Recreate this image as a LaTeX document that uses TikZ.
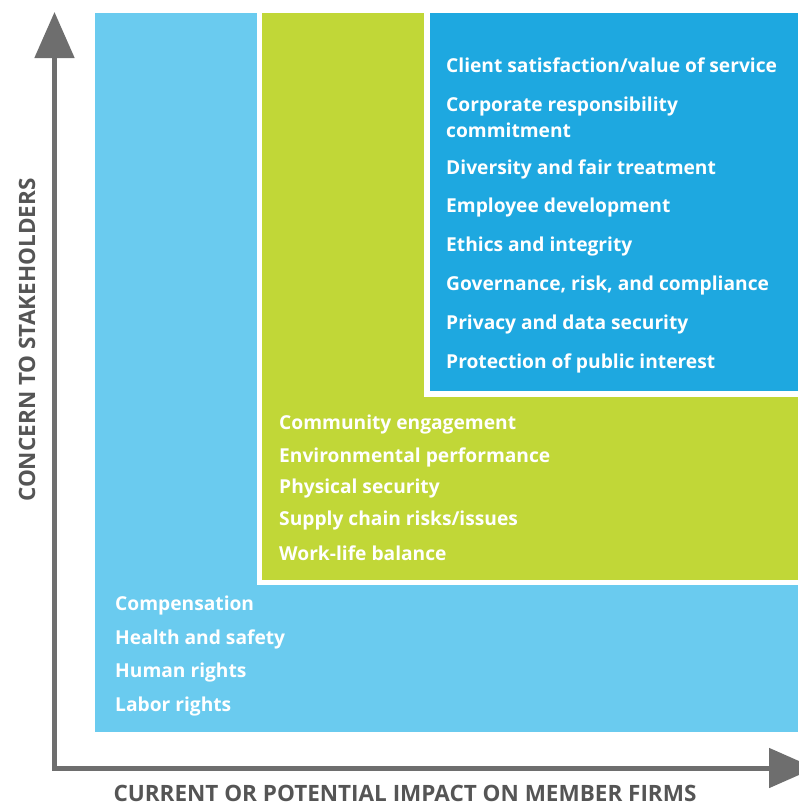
\documentclass[tikz,border=0pt]{standalone}
\usepackage{fontspec}
\setmainfont{Open Sans}
\usepackage{tikz}
\usetikzlibrary{arrows.meta}

\definecolor{lowblue}{HTML}{6ACBEF}
\definecolor{midgreen}{HTML}{C1D737}
\definecolor{topblue}{HTML}{1EA8E0}
\definecolor{axisgray}{HTML}{6E6E6E}
\definecolor{labelgray}{HTML}{555555}

\begin{document}
\begin{tikzpicture}[x=1pt, y=-1pt,
    issue/.style={anchor=west, inner sep=0pt, text=white, align=left,
        font=\fontsize{19.2}{26}\selectfont\bfseries},
    axis/.style={line width=5pt, color=axisgray, line cap=butt,
        -{Triangle[length=46pt, width=39pt]}},
    axislabel/.style={inner sep=0pt, text=labelgray,
        font=\fontsize{22.5}{26}\selectfont\bfseries}]
    \useasboundingbox (0,0) rectangle (798,806);

    % the three zones
    \fill[lowblue] (95,13) rectangle (798,732);
    \fill[white] (257,13) rectangle (798,585);
    \fill[midgreen] (262,13) rectangle (798,580);
    \fill[white] (424,13) rectangle (798,397);
    \fill[topblue] (430,13) rectangle (798,391);

    % axes
    \coordinate (origin) at (54.5,768);
    \coordinate (ytip) at (54.5,12);
    \coordinate (xtip) at (815,768);
    \draw[axis] (origin) -- (ytip);
    \draw[axis] ([xshift=-2.5pt]origin) -- (xtip);

    \node[axislabel, rotate=90, anchor=base] (ylab) at (35,340) {CONCERN TO STAKEHOLDERS};
    \node[axislabel, anchor=base] (xlab) at (405,801.5) {CURRENT OR POTENTIAL IMPACT ON MEMBER FIRMS};

    % high concern, high impact
    \node[issue] (t1) at (446,65) {Client satisfaction/value of service};
    \node[issue] (t2) at (446,117) {Corporate responsibility\\commitment};
    \node[issue] (t3) at (446,169) {Diversity and fair treatment};
    \node[issue] (t4) at (446,208) {Employee development};
    \node[issue] (t5) at (446,247) {Ethics and integrity};
    \node[issue] (t6) at (446,286) {Governance, risk, and compliance};
    \node[issue] (t7) at (446,325) {Privacy and data security};
    \node[issue] (t8) at (446,363) {Protection of public interest};

    % middle zone
    \node[issue] (m1) at (279,425) {Community engagement};
    \node[issue] (m2) at (279,457) {Environmental performance};
    \node[issue] (m3) at (279,489) {Physical security};
    \node[issue] (m4) at (279,521) {Supply chain risks/issues};
    \node[issue] (m5) at (279,553) {Work-life balance};

    % low zone
    \node[issue] (b1) at (115,606) {Compensation};
    \node[issue] (b2) at (115,639) {Health and safety};
    \node[issue] (b3) at (115,673) {Human rights};
    \node[issue] (b4) at (115,707) {Labor rights};
\end{tikzpicture}
\end{document}
